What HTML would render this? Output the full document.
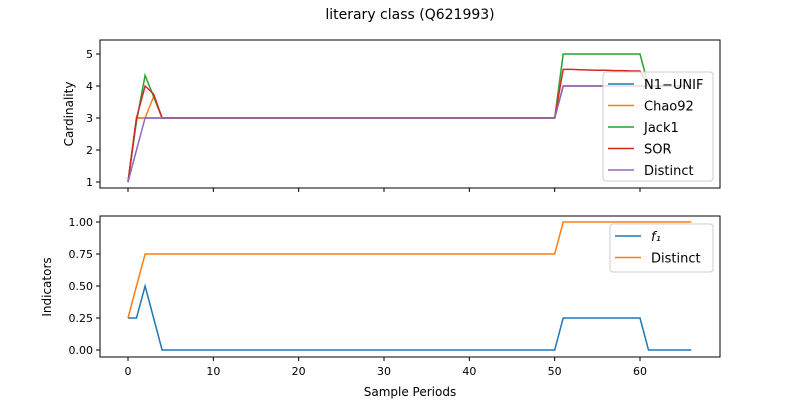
<!DOCTYPE html>
<html><head><meta charset="utf-8"><style>body{margin:0;background:#fff}svg{font-family:"DejaVu Sans","Liberation Sans",sans-serif}</style></head>
<body>
<svg id="c" width="800" height="400"></svg>
<script>
function seg(pairs){const a=[];for(const [n,v] of pairs)for(let i=0;i<n;i++)a.push(v);return a;}
const n1Unif=[1,3,3,3].concat(seg([[47,3],[16,4]]));
const chao92=[1,3,3,3.67].concat(seg([[47,3],[16,4]]));
const jack1=[1,2.9,4.33,3.67].concat(seg([[47,3],[10,5],[6,4]]));
const sor=[1,3,4,3.75].concat(seg([[47,3]])).concat([4.52,4.52,4.51,4.5,4.49,4.49,4.48,4.48,4.47,4.47]).concat(seg([[6,4]]));
const distinct=[1,2,3,3].concat(seg([[47,3],[16,4]]));
const f1=[0.25,0.25,0.5,0.25].concat(seg([[47,0],[10,0.25],[6,0]]));
const distinctInd=[0.25,0.5,0.75,0.75].concat(seg([[47,0.75],[16,1]]));
const xTicks=[0,10,20,30,40,50,60];
const topTicks=[1,2,3,4,5];
const botTicks=[0,0.25,0.5,0.75,1];
const botLabels=["0.00","0.25","0.50","0.75","1.00"];
const svg=document.getElementById('c');const NS="http://www.w3.org/2000/svg";
function el(t,a,txt){const e=document.createElementNS(NS,t);for(const k in a)e.setAttribute(k,a[k]);if(txt!==undefined)e.textContent=txt;svg.appendChild(e);return e;}
const X=v=>128+v*512/60;
const Yt=v=>182-(v-1)*32;
const Yb=v=>350-v*128;
function axes(top,bot,name){
 const r=el('rect',{x:100,y:top,width:620,height:bot-top,fill:'none',stroke:'#000','stroke-width':1});
 
 xTicks.forEach(t=>{const l=el('line',{x1:X(t),x2:X(t),y1:bot,y2:bot+4,stroke:'#000'});});
}
function line(arr,Y,color,name){const d=arr.map((v,i)=>(i?'L':'M')+X(i).toFixed(1)+','+Y(v).toFixed(1)).join('');
 const p=el('path',{d:d,fill:'none',stroke:color,'stroke-width':1.5});}
el('text',{x:410,y:19,'text-anchor':'middle','font-size':14},'literary class (Q621993)');
axes(40,188,'top-axes');axes(216,357,'bottom-axes');
topTicks.forEach(t=>{el('line',{x1:96,x2:100,y1:Yt(t),y2:Yt(t),stroke:'#000'});const tx=el('text',{x:93,y:Yt(t)+4,'text-anchor':'end','font-size':11},t);});
botTicks.forEach((t,i)=>{el('line',{x1:96,x2:100,y1:Yb(t),y2:Yb(t),stroke:'#000'});const tx=el('text',{x:93,y:Yb(t)+4,'text-anchor':'end','font-size':11},botLabels[i]);});
xTicks.forEach(t=>{const tx=el('text',{x:X(t),y:375,'text-anchor':'middle','font-size':11},t);});
el('text',{x:410,y:396,'text-anchor':'middle','font-size':12},'Sample Periods');
el('text',{x:73,y:114,'text-anchor':'middle','font-size':12,transform:'rotate(-90 73 114)'},'Cardinality');
el('text',{x:51,y:287,'text-anchor':'middle','font-size':12,transform:'rotate(-90 51 287)'},'Indicators');
line(n1Unif,Yt,'#1f77b4','n1-unif-line');line(chao92,Yt,'#ff7f0e','chao92-line');line(jack1,Yt,'#2ca02c','jack1-line');line(sor,Yt,'#d62728','sor-line');line(distinct,Yt,'#9467bd','distinct-line');
line(f1,Yb,'#1f77b4','f1-line');line(distinctInd,Yb,'#ff7f0e','distinct-indicator-line');
function legend(x,y,w,h,items,name){const r=el('rect',{x:x,y:y,width:w,height:h,rx:3,fill:'#fff','fill-opacity':0.8,stroke:'#ccc'});
 items.forEach((it,i)=>{const yy=y+12+i*21.5;el('line',{x1:x+5,x2:x+31,y1:yy,y2:yy,stroke:it[1],'stroke-width':1.5});const t=el('text',{x:x+41,y:yy+5,'font-size':13,'font-style':it[2]||'normal'},it[0]);});}
legend(603,72,110,109,[['N1\u2212UNIF','#1f77b4'],['Chao92','#ff7f0e'],['Jack1','#2ca02c'],['SOR','#d62728'],['Distinct','#9467bd']],'top-legend');
legend(610,224,103,48,[['f\u2081','#1f77b4','italic'],['Distinct','#ff7f0e']],'bottom-legend');
</script>
</body></html>
